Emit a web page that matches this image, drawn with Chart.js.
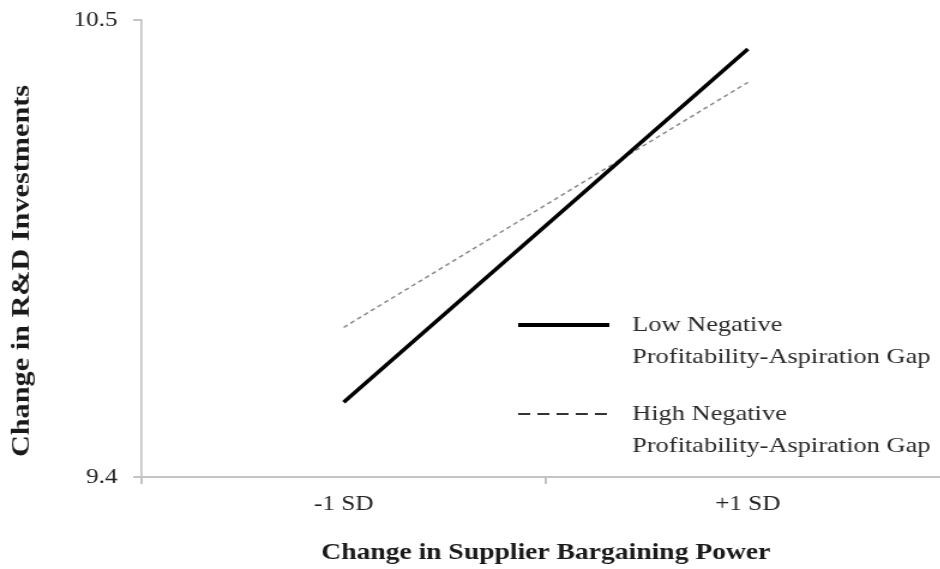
<!DOCTYPE html>
<html lang="en">
<head>
<meta charset="UTF-8">
<title>Change in R&amp;D Investments</title>
<script src="https://cdn.jsdelivr.net/npm/chart.js"></script>
<style>
  html, body { margin: 0; padding: 0; background: #fff; overflow: hidden; }
</style>
</head>
<body>
<!-- the source picture is stretched sideways, so draw narrow and widen with an inline style -->
<canvas id="chart" width="792" height="569" style="display:block;width:950px;height:569px"></canvas>
<script>
// data
const categories = ['-1 SD', '+1 SD'];
const lowGap = [9.58, 10.43];
const highGap = [9.76, 10.35];
const yTicks = [9.4, 10.5];
const lowName = ['Low Negative', 'Profitability-Aspiration Gap'];
const highName = ['High Negative', 'Profitability-Aspiration Gap'];

const axisGray = '#c4c4c4';
const serif = '"Liberation Serif", "Times New Roman", serif';
Chart.defaults.font.family = serif;

// legend inside the plot + the tall y title
const extrasPlugin = {
  id: 'extras',
  afterDraw(chart) {
    const ctx = chart.ctx;
    const itemY = [325, 414];
    chart.data.datasets.forEach((ds, i) => {
      const y = itemY[i];
      ctx.save();
      ctx.strokeStyle = ds.legendColor;
      ctx.lineWidth = ds.legendWidth;
      ctx.setLineDash(ds.legendDash);
      ctx.beginPath();
      ctx.moveTo(432, y);
      ctx.lineTo(508, y);
      ctx.stroke();
      ctx.setLineDash([]);
      ctx.fillStyle = '#2a2a2a';
      ctx.font = '22px ' + serif;
      ctx.textBaseline = 'middle';
      ctx.textAlign = 'left';
      ds.label.forEach((line, j) => ctx.fillText(line, 527, y + j * 32));
      ctx.restore();
    });

    ctx.save();
    ctx.translate(19, 271);
    ctx.rotate(-Math.PI / 2);
    ctx.scale(1.44, 1);
    ctx.fillStyle = '#1a1a1a';
    ctx.font = 'bold 21px ' + serif;
    ctx.textAlign = 'center';
    ctx.textBaseline = 'middle';
    ctx.fillText('Change in R&D Investments', 0, 0);
    ctx.restore();
  }
};

new Chart(document.getElementById('chart'), {
  type: 'line',
  data: {
    labels: categories,
    datasets: [
      {
        label: lowName,
        data: lowGap,
        borderColor: '#000',
        borderWidth: 3.5,
        pointRadius: 0,
        legendColor: '#000',
        legendWidth: 4,
        legendDash: []
      },
      {
        label: highName,
        data: highGap,
        borderColor: '#8a8a8a',
        borderWidth: 1.5,
        borderDash: [4, 3],
        pointRadius: 0,
        legendColor: '#333',
        legendWidth: 2,
        legendDash: [10, 6]
      }
    ]
  },
  options: {
    responsive: false,
    animation: false,
    layout: { padding: { top: 20, right: 0, bottom: 0, left: 0 } },
    plugins: {
      legend: { display: false },
      tooltip: { enabled: false }
    },
    scales: {
      x: {
        type: 'category',
        offset: true,
        grid: { offset: true, drawOnChartArea: false, tickLength: 7, color: axisGray, lineWidth: 2 },
        border: { color: axisGray, width: 2 },
        ticks: { padding: 8, color: '#222', font: { size: 21 } },
        title: {
          display: true,
          text: 'Change in Supplier Bargaining Power',
          color: '#1a1a1a',
          font: { size: 23, weight: 'bold' },
          padding: { top: 0, bottom: 2 }
        },
        afterFit: s => { s.height = 92; }
      },
      y: {
        min: 9.4,
        max: 10.5,
        afterBuildTicks: s => { s.ticks = yTicks.map(v => ({ value: v })); },
        grid: { drawOnChartArea: false, tickLength: 7, color: axisGray, lineWidth: 2 },
        border: { color: axisGray, width: 1.7 },
        ticks: { padding: 13, color: '#222', font: { size: 21 }, callback: v => String(v) },
        afterFit: s => { s.width = 118; s.paddingTop = 0; s.paddingBottom = 0; }
      }
    }
  },
  plugins: [extrasPlugin]
});
</script>
</body>
</html>
